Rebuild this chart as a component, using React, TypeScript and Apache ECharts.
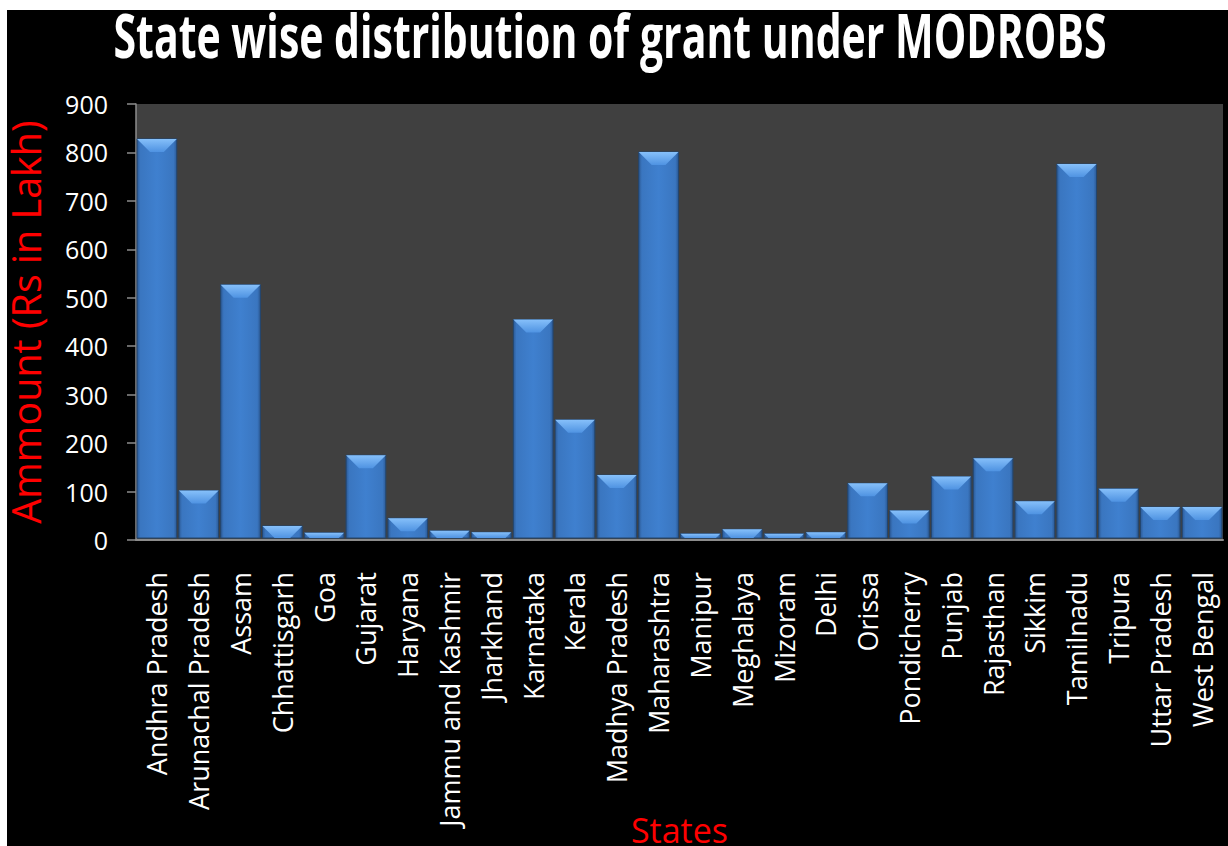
import React, { useEffect, useRef } from "react";
import * as echarts from "echarts";

const states = [
  "Andhra Pradesh", "Arunachal Pradesh", "Assam", "Chhattisgarh", "Goa", "Gujarat", "Haryana",
  "Jammu and Kashmir", "Jharkhand", "Karnataka", "Kerala", "Madhya Pradesh", "Maharashtra",
  "Manipur", "Meghalaya", "Mizoram", "Delhi", "Orissa", "Pondicherry", "Punjab", "Rajasthan",
  "Sikkim", "Tamilnadu", "Tripura", "Uttar Pradesh", "West Bengal",
];
const amounts = [
  828, 102, 527, 29, 15, 175, 45, 19, 16, 455, 248, 134, 801, 13, 22, 13, 16, 117, 61, 131, 169,
  80, 776, 106, 68, 68,
];
const yTicks = { min: 0, max: 900, interval: 100 };
const titleText = "State wise distribution of grant under MODROBS";
const yName = "Ammount (Rs in Lakh)";
const xName = "States";

export default function App() {
  const ref = useRef<HTMLDivElement>(null);
  useEffect(() => {
    if (!ref.current) return;
    const chart = echarts.init(ref.current, null, { renderer: "svg" });
    const renderItem = (params: any, api: any) => {
      const idx = api.value(0);
      const v = api.value(1);
      const top = api.coord([idx, v]);
      const base = api.coord([idx, 0]);
      const w = api.size([1, 0])[0] * 0.95;
      const x0 = top[0] - w / 2;
      const x1 = top[0] + w / 2;
      const y0 = top[1];
      const y1 = base[1] - 2;
      const h = Math.max(y1 - y0, 1);
      const bev = Math.min(13, h);
      return {
        type: "group",
        children: [
          {
            type: "rect",
            shape: { x: x0, y: y0, width: w, height: h },
            style: {
              fill: new echarts.graphic.LinearGradient(0, 0, 1, 0, [
                { offset: 0, color: "#2c5a96" },
                { offset: 0.08, color: "#3a76c0" },
                { offset: 0.5, color: "#3f80cf" },
                { offset: 0.92, color: "#3a76c0" },
                { offset: 1, color: "#2c5a96" },
              ]),
              stroke: "#23466f",
              lineWidth: 1,
            },
          },
          {
            type: "polygon",
            shape: {
              points: [
                [x0, y0],
                [x1, y0],
                [x1 - bev, y0 + bev],
                [x0 + bev, y0 + bev],
              ],
            },
            style: {
              fill: new echarts.graphic.LinearGradient(0, 0, 0, 1, [
                { offset: 0, color: "#86c0fa" },
                { offset: 1, color: "#4f93e2" },
              ]),
            },
          },
        ],
      };
    };
    chart.setOption({
      animation: false,
      backgroundColor: "#000000",
      graphic: [
        { type: "rect", z: -1, shape: { x: 0, y: 0, width: 1228, height: 10 }, style: { fill: "#ffffff" } },
        { type: "rect", z: -1, shape: { x: 0, y: 0, width: 7, height: 846 }, style: { fill: "#ffffff" } },
        {
          type: "text",
          x: 610,
          y: 34,
          scaleY: 1.5,
          style: {
            text: titleText,
            fill: "#ffffff",
            font: 'bold 41px "Open Sans"',
            lineHeight: 28,
            textAlign: "center",
            textVerticalAlign: "middle",
          },
        },
      ],
      grid: {
        left: 136,
        right: 5,
        top: 104,
        bottom: 306,
        show: true,
        backgroundColor: "#404040",
        borderWidth: 0,
        containLabel: false,
        outerBoundsMode: "none",
      },
      xAxis: {
        type: "category",
        data: states,
        name: xName,
        nameLocation: "middle",
        nameGap: 276,
        nameMoveOverlap: false,
        nameTextStyle: {
          color: "#ff0000",
          fontSize: 34,
          fontFamily: "Open Sans",
          lineHeight: 28,
        },
        axisLine: { show: true, lineStyle: { color: "#8c8c8c", width: 2 } },
        axisTick: { show: false },
        axisLabel: {
          rotate: 90,
          interval: 0,
          margin: 32,
          color: "#ffffff",
          fontSize: 27,
          fontFamily: "Open Sans",
        },
      },
      yAxis: {
        type: "value",
        min: yTicks.min,
        max: yTicks.max,
        interval: yTicks.interval,
        name: yName,
        nameLocation: "middle",
        nameRotate: 90,
        nameGap: 92,
        nameTextStyle: {
          color: "#ff0000",
          fontSize: 39.5,
          fontFamily: "Open Sans",
          lineHeight: 36,
        },
        axisLine: { show: true, lineStyle: { color: "#8c8c8c", width: 1.5 } },
        axisTick: { show: true, length: 9, lineStyle: { color: "#8c8c8c", width: 1.5 } },
        splitLine: { show: false },
        axisLabel: {
          color: "#ffffff",
          fontSize: 25,
          fontFamily: "Open Sans",
          margin: 28,
        },
      },
      series: [
        {
          type: "custom",
          renderItem,
          encode: { x: 0, y: 1 },
          data: amounts.map((v, i) => [i, v]),
        },
      ],
    });
    return () => chart.dispose();
  }, []);
  return (
    <div
      ref={ref}
      style={{ position: "absolute", left: 0, top: 0, width: 1228, height: 846 }}
    />
  );
}
